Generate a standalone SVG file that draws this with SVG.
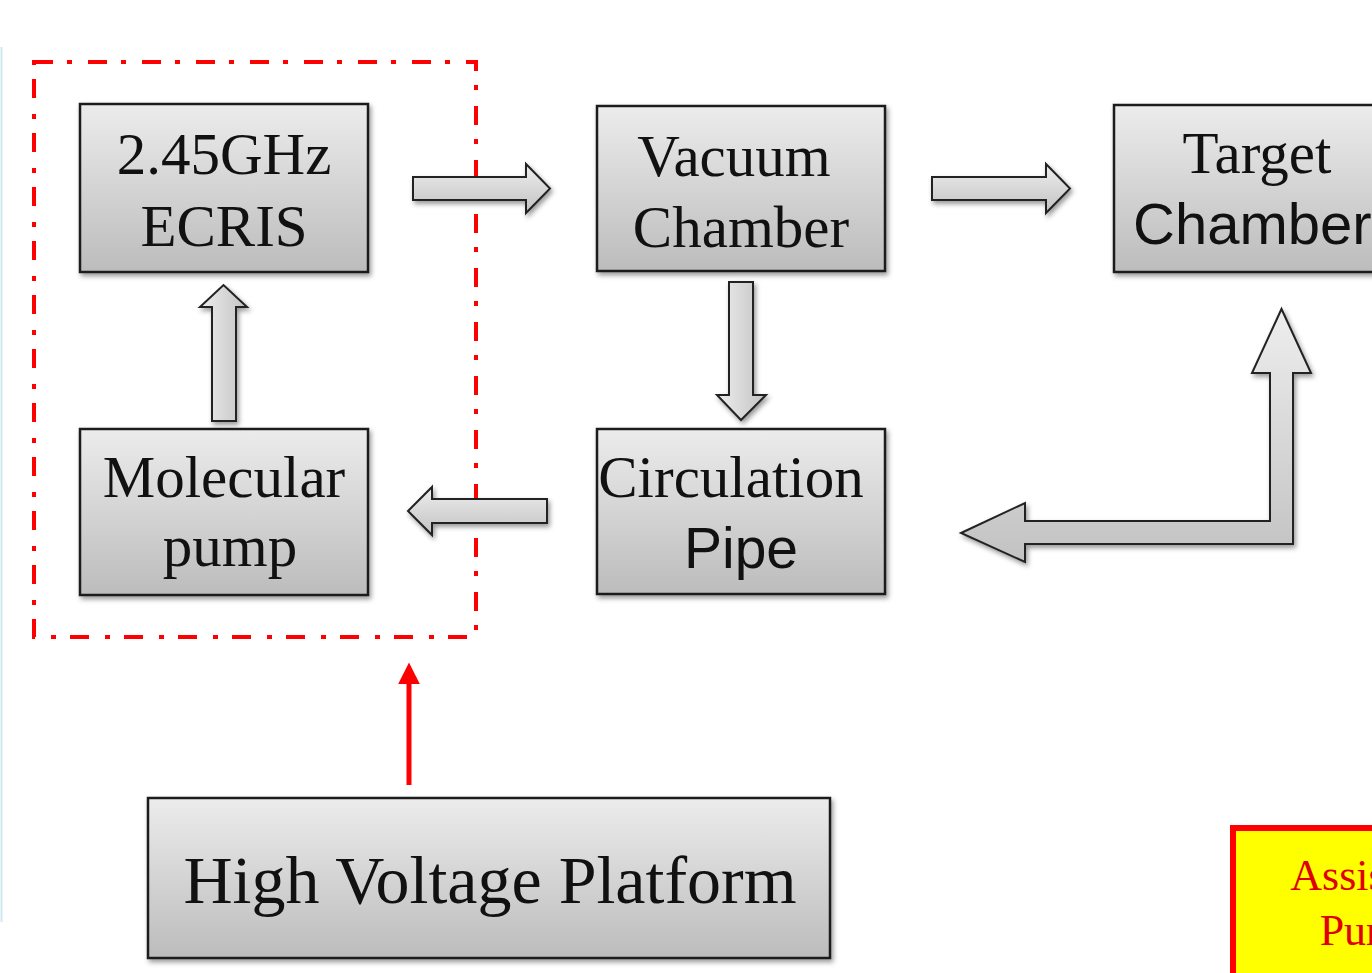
<svg xmlns="http://www.w3.org/2000/svg" width="1372" height="973" viewBox="0 0 1372 973">
<defs>
  <linearGradient id="boxGrad" x1="0" y1="0" x2="0" y2="1">
    <stop offset="0" stop-color="#ececec"/>
    <stop offset="1" stop-color="#bcbcbc"/>
  </linearGradient>
  <linearGradient id="arrGradH" x1="0" y1="0" x2="0" y2="1">
    <stop offset="0" stop-color="#eeeeee"/>
    <stop offset="1" stop-color="#c2c2c2"/>
  </linearGradient>
  <linearGradient id="arrGradV" x1="0" y1="0" x2="1" y2="0">
    <stop offset="0" stop-color="#eeeeee"/>
    <stop offset="1" stop-color="#c2c2c2"/>
  </linearGradient>
  <filter id="shadow" x="-10%" y="-10%" width="125%" height="130%">
    <feDropShadow dx="2" dy="3" stdDeviation="2.5" flood-color="#000" flood-opacity="0.4"/>
  </filter>
  <marker id="redHead" viewBox="0 0 10 10" refX="2" refY="5" markerWidth="22" markerHeight="22" markerUnits="userSpaceOnUse" orient="auto">
    <path d="M0,0 L10,5 L0,10 Z" fill="#ff0000"/>
  </marker>
  <style>
    .box { fill: url(#boxGrad); stroke: #1e1e1e; stroke-width: 2.5; filter: url(#shadow); }
    .arrH { fill: url(#arrGradH); stroke: #222; stroke-width: 2; stroke-linejoin: miter; filter: url(#shadow); }
    .arrV { fill: url(#arrGradV); stroke: #222; stroke-width: 2; stroke-linejoin: miter; filter: url(#shadow); }
    .serif { font-family: "Liberation Serif", "Times New Roman", serif; fill: #111; }
    .sans { font-family: "Liberation Sans", Arial, sans-serif; fill: #111; }
    .lbl { font-size: 59px; text-anchor: middle; }
    .assist { font-family: "Liberation Serif", "Times New Roman", serif; font-size: 44px; fill: #e00000; text-anchor: middle; }
  </style>
</defs>
<rect x="0" y="0" width="1372" height="973" fill="#ffffff"/>
<line x1="1.5" y1="47" x2="1.5" y2="922" stroke="#cfe7ee" stroke-width="2"/>

<g id="group-box">
  <path d="M34,62 L476,62 L476,637 L34,637 Z" fill="none" stroke="#ff0000" stroke-width="4" stroke-dasharray="19 14 5 16"/>
</g>

<g id="connectors">
  <polygon class="arrH" points="413,177 526,177 526,164 550,188.5 526,213 526,200 413,200"/>
  <polygon class="arrH" points="932,177 1046,177 1046,164 1070,188.5 1046,213 1046,200 932,200"/>
  <polygon class="arrV" points="729,282 753,282 753,395 766,395 741,420 717,395 729,395"/>
  <polygon class="arrH" points="547,499 432,499 432,487 408,511 432,535 432,523 547,523"/>
  <polygon class="arrV" points="212,421 236,421 236,307 247,307 223.5,285 200,307 212,307"/>
  <polygon class="arrH" points="961,533 1025,503 1025,521 1270,521 1270,373 1252,373 1281.5,309 1311,373 1293,373 1293,544 1025,544 1025,562"/>
  <line x1="409" y1="785" x2="409" y2="680" stroke="#ff0000" stroke-width="5" marker-end="url(#redHead)"/>
</g>

<g id="node-ecris">
  <rect class="box" x="80" y="104" width="288" height="168"/>
  <text class="serif lbl" x="224" y="174">2.45GHz</text>
  <text class="serif lbl" x="224" y="246">ECRIS</text>
</g>

<g id="node-vacuum">
  <rect class="box" x="597" y="106" width="288" height="165"/>
  <text class="serif lbl" x="734" y="176">Vacuum</text>
  <text class="serif lbl" x="741" y="247">Chamber</text>
</g>

<g id="node-target">
  <rect class="box" x="1114" y="105" width="300" height="167"/>
  <text class="serif lbl" x="1257" y="173">Target</text>
  <text class="sans" x="1133" y="244" font-size="58">Chamber</text>
</g>

<g id="node-molecular">
  <rect class="box" x="80" y="429" width="288" height="166"/>
  <text class="serif lbl" x="224" y="497">Molecular</text>
  <text class="serif lbl" x="230" y="566">pump</text>
</g>

<g id="node-circulation">
  <rect class="box" x="597" y="429" width="288" height="165"/>
  <text class="serif lbl" x="731" y="497">Circulation</text>
  <text class="sans" x="741" y="568" font-size="57" text-anchor="middle">Pipe</text>
</g>

<g id="node-hvp">
  <rect class="box" x="148" y="798" width="682" height="160" stroke-width="3"/>
  <text class="serif" x="490" y="903" font-size="68" text-anchor="middle">High Voltage Platform</text>
</g>

<g id="node-assist">
  <rect x="1233" y="828" width="180" height="160" fill="#ffff00" stroke="#ff0000" stroke-width="6"/>
  <text class="assist" x="1371" y="890">Assistant</text>
  <text class="assist" x="1371" y="945">Pump</text>
</g>
</svg>
